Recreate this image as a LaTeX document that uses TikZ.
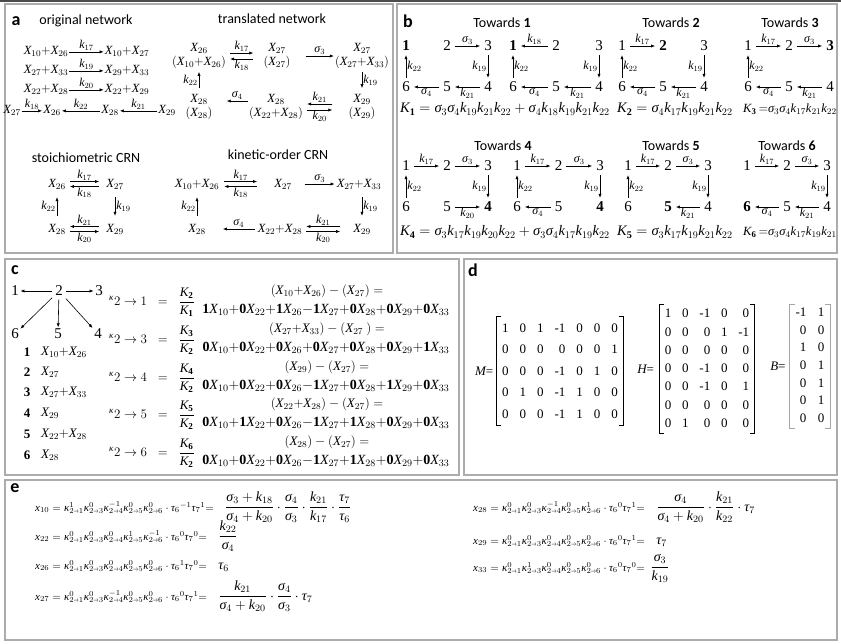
\RequirePackage{fix-cm}
\documentclass[tikz,border=0pt]{standalone}
\usepackage{amsmath}
\usepackage{fontspec}
\setmainfont{Liberation Serif}
\newfontfamily\serfam{Liberation Serif}[NFSSFamily=libser]
\newfontfamily\sflbl{Carlito}
\DeclareSymbolFont{tit}{TU}{libser}{m}{it}
\makeatletter
\count@=`A \loop\Umathcode\count@="7 \symtit\count@ \ifnum\count@<`Z\advance\count@\@ne\repeat
\count@=`a \loop\Umathcode\count@="7 \symtit\count@ \ifnum\count@<`z\advance\count@\@ne\repeat
\makeatother
\Umathchardef\sigma="0 \symtit "03C3
\Umathchardef\kappa="0 \symtit "03BA
\Umathchardef\tau="0 \symtit "03C4
\usetikzlibrary{arrows.meta,calc,positioning}

\newcommand\sto{\mathrel{\scalebox{0.6}[1]{$\scriptstyle\rightarrow$}}}
\newcommand\kps[5]{\kappa^{#1}_{2\sto1}\kappa^{#2}_{2\sto3}\kappa^{#3}_{2\sto4}\kappa^{#4}_{2\sto5}\kappa^{#5}_{2\sto6}}

\begin{document}
\begin{tikzpicture}[x=1pt,y=-1pt,
 panel/.style={draw=gray!65,line width=1.2pt},
 tag/.style={font=\sflbl\bfseries\fontsize{18}{18}\selectfont,inner sep=0pt},
 ttl/.style={font=\sflbl\fontsize{14}{14}\selectfont,inner sep=0pt},
 sp/.style={inner sep=1pt,font=\fontsize{12.5}{14}\selectfont},
 cx/.style={sp,align=center},
 lbl/.style={inner sep=1pt,font=\fontsize{12}{12}\selectfont},
 ar/.style={-{Latex[length=4pt,width=3.2pt]},line width=0.6pt},
 ed/.style={ar,shorten <=2.5pt,shorten >=2.5pt},
 num/.style={inner sep=1.5pt,font=\fontsize{15}{15}\selectfont},
 kform/.style={anchor=west,inner sep=0pt,font=\fontsize{14.5}{14.5}\selectfont},
 cmath/.style={inner sep=1pt,font=\fontsize{13}{15}\selectfont},
 cbold/.style={inner sep=1pt,font=\fontsize{14}{15}\selectfont},
 lnum/.style={inner sep=1pt,font=\bfseries\fontsize{13}{13}\selectfont},
 mtx/.style={inner sep=0pt,font=\fontsize{13}{15.6}\selectfont},
 brk/.style={line width=1pt},
 brkb/.style={line width=0.6pt,gray!70},
 eqs/.style={anchor=base west,inner sep=0pt,font=\fontsize{11}{13}\selectfont},
 eqf/.style={anchor=base west,inner sep=0pt,font=\fontsize{14}{16}\selectfont}]
\useasboundingbox (0,0) rectangle (841,643);
\fill[black!70] (0,0) rectangle (841,2);
\draw[panel] (5,4) rectangle (393,253);
\draw[panel] (397,4) rectangle (837,253);
\draw[panel] (5,259) rectangle (459,475);
\draw[panel] (464,259) rectangle (837,475);
\draw[panel] (5,480) rectangle (837,640);

% a
\node[tag] (ta) at (16,21) {a};
\node[ttl] (on) at (86,21) {original network};
\node[ttl] (tn) at (272,19) {translated network};
\node[sp] (o1l) at (46,51) {$X_{10}{+}X_{26}$};
\node[sp] (o1r) at (127,51) {$X_{10}{+}X_{27}$};
\node[sp] (o2l) at (46,70) {$X_{27}{+}X_{33}$};
\node[sp] (o2r) at (127,70) {$X_{29}{+}X_{33}$};
\node[sp] (o3l) at (46,89) {$X_{22}{+}X_{28}$};
\node[sp] (o3r) at (127,89) {$X_{22}{+}X_{29}$};
\draw[ar] (o1l.mid east) -- node[above,lbl]{$k_{17}$} (o1r.mid west);
\draw[ar] (o2l.mid east) -- node[above,lbl]{$k_{19}$} (o2r.mid west);
\draw[ar] (o3l.mid east) -- node[above,lbl]{$k_{20}$} (o3r.mid west);
\node[sp] (o27) at (12,110) {$X_{27}$};
\node[sp] (o26) at (52,110) {$X_{26}$};
\node[sp] (o28) at (110,110) {$X_{28}$};
\node[sp] (o29) at (167,110) {$X_{29}$};
\draw[ar] (o27.mid east) -- node[above,lbl]{$k_{18}$} (o26.mid west);
\draw[ar] (o28.mid west) -- node[above,lbl]{$k_{22}$} (o26.mid east);
\draw[ar] (o29.mid west) -- node[above,lbl]{$k_{21}$} (o28.mid east);

\node[cx] (tr1) at (199,56) {$X_{26}$\\$(X_{10}{+}X_{26})$};
\node[cx] (tr2) at (277,56) {$X_{27}$\\$(X_{27})$};
\node[cx] (tr3) at (362,56) {$X_{27}$\\$(X_{27}{+}X_{33})$};
\node[cx] (tr6) at (199,107) {$X_{28}$\\$(X_{28})$};
\node[cx] (tr5) at (276,107) {$X_{28}$\\$(X_{22}{+}X_{28})$};
\node[cx] (tr4) at (362,107) {$X_{29}$\\$(X_{29})$};
\draw[ar] ([xshift=3pt,yshift=3pt]tr1.east) -- node[above,lbl]{$k_{17}$} ([xshift=-9pt,yshift=3pt]tr2.west);
\draw[ar] ([xshift=-9pt,yshift=-3pt]tr2.west) -- node[below,lbl]{$k_{18}$} ([xshift=3pt,yshift=-3pt]tr1.east);
\draw[ar] ([xshift=14pt]tr2.east) -- node[above,lbl]{$\sigma_3$} (tr3.west);
\draw[ar] ([yshift=-2pt]tr3.south) -- node[right,lbl]{$k_{19}$} ([yshift=5pt]tr4.north);
\draw[ar] ([xshift=-15pt,yshift=3pt]tr4.west) -- node[above,lbl]{$k_{21}$} ([xshift=3pt,yshift=3pt]tr5.east);
\draw[ar] ([xshift=3pt,yshift=-3pt]tr5.east) -- node[below,lbl]{$k_{20}$} ([xshift=-15pt,yshift=-3pt]tr4.west);
\draw[ar] ([yshift=6pt]tr5.west) -- node[above,lbl]{$\sigma_4$} ([xshift=13pt,yshift=6pt]tr6.east);
\draw[ar] ([yshift=5pt]tr6.north) -- node[left,lbl]{$k_{22}$} ([yshift=-2pt]tr1.south);

\node[ttl] (sc) at (86,158) {stoichiometric CRN};
\node[ttl] (kc) at (278,155) {kinetic-order CRN};
\node[sp] (s26) at (57,184) {$X_{26}$};
\node[sp] (s27) at (115,184) {$X_{27}$};
\node[sp] (s28) at (57,229) {$X_{28}$};
\node[sp] (s29) at (115,229) {$X_{29}$};
\draw[ar] ([xshift=3pt,yshift=2.5pt]s26.east) -- node[above,lbl]{$k_{17}$} ([xshift=-6pt,yshift=2.5pt]s27.west);
\draw[ar] ([xshift=-6pt,yshift=-2.5pt]s27.west) -- node[below,lbl]{$k_{18}$} ([xshift=3pt,yshift=-2.5pt]s26.east);
\draw[ar] ([xshift=-6pt,yshift=2.5pt]s29.west) -- node[above,lbl]{$k_{21}$} ([xshift=3pt,yshift=2.5pt]s28.east);
\draw[ar] ([xshift=3pt,yshift=-2.5pt]s28.east) -- node[below,lbl]{$k_{20}$} ([xshift=-6pt,yshift=-2.5pt]s29.west);
\draw[ar] ([yshift=7pt]s28.north) -- node[left,lbl]{$k_{22}$} ([yshift=-7pt]s26.south);
\draw[ar] ([yshift=-7pt]s27.south) -- node[right,lbl]{$k_{19}$} ([yshift=7pt]s29.north);

\node[sp] (k1) at (197,184) {$X_{10}{+}X_{26}$};
\node[sp] (k2) at (283,184) {$X_{27}$};
\node[sp] (k3) at (359,184) {$X_{27}{+}X_{33}$};
\node[sp] (k6) at (197,229) {$X_{28}$};
\node[sp] (k5) at (280,229) {$X_{22}{+}X_{28}$};
\node[sp] (k4) at (362,229) {$X_{29}$};
\draw[ar] ([xshift=4pt,yshift=2.5pt]k1.east) -- node[above,lbl]{$k_{17}$} ([xshift=-16pt,yshift=2.5pt]k2.west);
\draw[ar] ([xshift=-16pt,yshift=-2.5pt]k2.west) -- node[below,lbl]{$k_{18}$} ([xshift=4pt,yshift=-2.5pt]k1.east);
\draw[ar] ([xshift=12pt]k2.east) -- node[above,lbl]{$\sigma_3$} ([xshift=-1pt]k3.west);
\draw[ar] ([xshift=3pt,yshift=-7pt]k3.south) -- node[right,lbl]{$k_{19}$} ([yshift=7pt]k4.north);
\draw[ar] ([xshift=-12pt,yshift=2.5pt]k4.west) -- node[above,lbl]{$k_{21}$} ([xshift=3pt,yshift=2.5pt]k5.east);
\draw[ar] ([xshift=3pt,yshift=-2.5pt]k5.east) -- node[below,lbl]{$k_{20}$} ([xshift=-12pt,yshift=-2.5pt]k4.west);
\draw[ar] ([xshift=-2pt]k5.west) -- node[above,lbl]{$\sigma_4$} ([xshift=16pt]k6.east);
\draw[ar] ([yshift=7pt]k6.north) -- node[left,lbl]{$k_{22}$} ([yshift=-7pt]k1.south);

% b
\node[tag] (tb) at (408,21) {b};
\node[ttl] (tw1) at (502,23) {Towards \textbf{1}};
\node[ttl] (tw2) at (671,23) {Towards \textbf{2}};
\node[ttl] (tw3) at (790,23) {Towards \textbf{3}};
\node[ttl] (tw4) at (503,146) {Towards \textbf{4}};
\node[ttl] (tw5) at (671,146) {Towards \textbf{5}};
\node[ttl] (tw6) at (787,146) {Towards \textbf{6}};
\foreach \g/\gx/\gy/\bn/\cs in {t1a/406/46/1/41,t1b/513/46/1/43,t2/622/46/2/41,t3/748/46/3/41,
  t4a/406/166/4/41,t4b/517/166/4/41.5,t5/628/166/5/40,t6/747/166/6/40}
 \foreach \q/\cx/\ry in {1/0/0,2/1/0,3/2/0,6/0/41,5/1/41,4/2/41}
  \node[num] (\g\q) at (\gx+\cx*\cs,\gy+\ry) {\ifnum\q=\bn\relax\textbf{\q}\else\q\fi};
\foreach \g/\u/\v/\a/\t in {
  t1a/2/3/south/\sigma_3, t1a/3/4/east/k_{19}, t1a/4/5/north/k_{21}, t1a/5/6/north/\sigma_4, t1a/6/1/west/k_{22},
  t1b/2/1/south/k_{18}, t1b/3/4/east/k_{19}, t1b/4/5/north/k_{21}, t1b/5/6/north/\sigma_4, t1b/6/1/west/k_{22},
  t2/1/2/south/k_{17}, t2/3/4/east/k_{19}, t2/4/5/north/k_{21}, t2/5/6/north/\sigma_4, t2/6/1/west/k_{22},
  t3/1/2/south/k_{17}, t3/2/3/south/\sigma_3, t3/4/5/north/k_{21}, t3/5/6/north/\sigma_4, t3/6/1/west/k_{22},
  t4a/1/2/south/k_{17}, t4a/2/3/south/\sigma_3, t4a/3/4/east/k_{19}, t4a/5/4/north/k_{20}, t4a/6/1/west/k_{22},
  t4b/1/2/south/k_{17}, t4b/2/3/south/\sigma_3, t4b/3/4/east/k_{19}, t4b/5/6/north/\sigma_4, t4b/6/1/west/k_{22},
  t5/1/2/south/k_{17}, t5/2/3/south/\sigma_3, t5/3/4/east/k_{19}, t5/4/5/north/k_{21}, t5/6/1/west/k_{22},
  t6/1/2/south/k_{17}, t6/2/3/south/\sigma_3, t6/3/4/east/k_{19}, t6/4/5/north/k_{21}, t6/5/6/north/\sigma_4}
 \draw[ed] (\g\u) -- node[lbl,anchor=\a]{$\t$} (\g\v);
\node[kform] (K1) at (400,109) {$K_{\mathbf{1}}=\sigma_3\sigma_4k_{19}k_{21}k_{22}+\sigma_4k_{18}k_{19}k_{21}k_{22}$};
\node[kform] (K2) at (617,109) {$K_{\mathbf{2}}=\sigma_4k_{17}k_{19}k_{21}k_{22}$};
\node[kform,font=\fontsize{12.5}{12.5}\selectfont] (K3) at (743,109) {$K_{\mathbf{3}}\,{=}\sigma_3\sigma_4k_{17}k_{21}k_{22}$};
\node[kform] (K4) at (400,232) {$K_{\mathbf{4}}=\sigma_3k_{17}k_{19}k_{20}k_{22}+\sigma_3\sigma_4k_{17}k_{19}k_{22}$};
\node[kform] (K5) at (617,232) {$K_{\mathbf{5}}=\sigma_3k_{17}k_{19}k_{21}k_{22}$};
\node[kform,font=\fontsize{12.5}{12.5}\selectfont] (K6) at (743,232) {$K_{\mathbf{6}}\,{=}\sigma_3\sigma_4k_{17}k_{19}k_{21}$};

% c
\node[tag] (tc) at (15,270) {c};
\node[num] (c1) at (15,291) {1};
\node[num] (c2) at (59,291) {2};
\node[num] (c3) at (99,291) {3};
\node[num] (c6) at (15,334) {6};
\node[num] (c5) at (58,334) {5};
\node[num] (c4) at (98,334) {4};
\foreach \v in {1,3,4,5,6} \draw[ar,shorten <=2pt] (c2) -- (c\v);
\foreach \i/\y/\e in {1/352/{X_{10}{+}X_{26}},2/372/{X_{27}},3/392/{X_{27}{+}X_{33}},
  4/413/{X_{29}},5/434/{X_{22}{+}X_{28}},6/455/{X_{28}}}
 {\node[lnum] (ln\i) at (27,\y) {\i};
  \node[cmath,anchor=west] (le\i) at (40,\y) {$\e$};}
\foreach \j/\p/\d/\y in {1/2/1/302,3/3/2/340,4/4/2/378,5/5/2/415,6/6/2/453}
 \node[cmath,anchor=west] (kap\j) at (108,\y) {${}^{\kappa}2\rightarrow\j\;\;=\;\;\dfrac{K_{\mathbf{\p}}}{K_{\mathbf{\d}}}$};
\foreach \j/\y/\u/\v in {
  1/302/{(X_{10}{+}X_{26})-(X_{27})=}/{\mathbf{1}X_{10}{+}\mathbf{0}X_{22}{+}\mathbf{1}X_{26}{-}\mathbf{1}X_{27}{+}\mathbf{0}X_{28}{+}\mathbf{0}X_{29}{+}\mathbf{0}X_{33}},
  3/340/{(X_{27}{+}X_{33})-(X_{27}\ )=}/{\mathbf{0}X_{10}{+}\mathbf{0}X_{22}{+}\mathbf{0}X_{26}{+}\mathbf{0}X_{27}{+}\mathbf{0}X_{28}{+}\mathbf{0}X_{29}{+}\mathbf{1}X_{33}},
  4/378/{(X_{29})-(X_{27})=}/{\mathbf{0}X_{10}{+}\mathbf{0}X_{22}{+}\mathbf{0}X_{26}{-}\mathbf{1}X_{27}{+}\mathbf{0}X_{28}{+}\mathbf{1}X_{29}{+}\mathbf{0}X_{33}},
  5/415/{(X_{22}{+}X_{28})-(X_{27})=}/{\mathbf{0}X_{10}{+}\mathbf{1}X_{22}{+}\mathbf{0}X_{26}{-}\mathbf{1}X_{27}{+}\mathbf{1}X_{28}{+}\mathbf{0}X_{29}{+}\mathbf{0}X_{33}},
  6/453/{(X_{28})-(X_{27})=}/{\mathbf{0}X_{10}{+}\mathbf{0}X_{22}{+}\mathbf{0}X_{26}{-}\mathbf{1}X_{27}{+}\mathbf{1}X_{28}{+}\mathbf{0}X_{29}{+}\mathbf{0}X_{33}}}
 {\node[cmath] (du\j) at (327,\y-11) {$\u$};
  \node[cbold] (dv\j) at (326,\y+8) {$\v$};}

% d
\node[tag] (td) at (473,270) {d};
\node[mtx] (mM) at (560,371) {\def\arraystretch{1.38}\setlength\tabcolsep{5.5pt}%
 \begin{tabular}{rrrrrrr}1&0&1&-1&0&0&0\\0&0&0&0&0&0&1\\0&0&0&-1&0&1&0\\0&1&0&-1&1&0&0\\0&0&0&-1&1&0&0\end{tabular}};
\node[mtx] (mH) at (707,369) {\def\arraystretch{1.17}\setlength\tabcolsep{5.4pt}%
 \begin{tabular}{rrrrr}1&0&-1&0&0\\0&0&0&1&-1\\0&0&0&0&0\\0&0&-1&0&0\\0&0&-1&0&1\\0&0&0&0&0\\0&1&0&0&0\end{tabular}};
\node[mtx] (mB) at (810,366) {\def\arraystretch{1.13}\setlength\tabcolsep{5.7pt}%
 \begin{tabular}{rr}-1&1\\0&0\\1&0\\0&1\\0&1\\0&1\\0&0\end{tabular}};
\foreach \m/\s in {mM/brk,mH/brk,mB/brkb}
 {\draw[\s] ([xshift=5pt]\m.north west) -- (\m.north west) -- (\m.south west) -- ([xshift=5pt]\m.south west);
  \draw[\s] ([xshift=-5pt]\m.north east) -- (\m.north east) -- (\m.south east) -- ([xshift=-5pt]\m.south east);}
\node[mtx,left=3pt of mM] (lM) {$M$=};
\node[mtx,left=5pt of mH] (lH) {$H$=};
\node[mtx,left=4pt of mB] (lB) {$B$=};

% e
\node[tag] (te) at (15,488) {e};
\node[eqs] (e10) at (35,511) {$x_{10}=\kps{1}{0}{-1}{0}{0}\cdot\tau_6{}^{-1}\tau_7{}^{1}{=}$};
\node[eqf] (f10) at ([xshift=11pt]e10.base east) {$\dfrac{\sigma_3+k_{18}}{\sigma_4+k_{20}}\cdot\dfrac{\sigma_4}{\sigma_3}\cdot\dfrac{k_{21}}{k_{17}}\cdot\dfrac{\tau_7}{\tau_6}$};
\node[eqs] (e22) at (35,540) {$x_{22}=\kps{0}{0}{0}{1}{-1}\cdot\tau_6{}^{0}\tau_7{}^{0}{=}$};
\node[eqf] (f22) at ([xshift=11pt]e22.base east) {$\dfrac{k_{22}}{\sigma_4}$};
\node[eqs] (e26) at (35,569) {$x_{26}=\kps{0}{0}{0}{0}{0}\cdot\tau_6{}^{1}\tau_7{}^{0}{=}$};
\node[eqf] (f26) at ([xshift=11pt]e26.base east) {$\tau_6$};
\node[eqs] (e27) at (35,600) {$x_{27}=\kps{0}{0}{-1}{0}{0}\cdot\tau_6{}^{0}\tau_7{}^{1}{=}$};
\node[eqf] (f27) at ([xshift=11pt]e27.base east) {$\dfrac{k_{21}}{\sigma_4+k_{20}}\cdot\dfrac{\sigma_4}{\sigma_3}\cdot\tau_7$};
\node[eqs] (e28) at (473,511) {$x_{28}=\kps{0}{0}{-1}{0}{1}\cdot\tau_6{}^{0}\tau_7{}^{1}{=}$};
\node[eqf] (f28) at ([xshift=11pt]e28.base east) {$\dfrac{\sigma_4}{\sigma_4+k_{20}}\cdot\dfrac{k_{21}}{k_{22}}\cdot\tau_7$};
\node[eqs] (e29) at (473,544) {$x_{29}=\kps{0}{0}{0}{0}{0}\cdot\tau_6{}^{0}\tau_7{}^{1}{=}$};
\node[eqf] (f29) at ([xshift=11pt]e29.base east) {$\tau_7$};
\node[eqs] (e33) at (473,571) {$x_{33}=\kps{0}{1}{0}{0}{0}\cdot\tau_6{}^{0}\tau_7{}^{0}{=}$};
\node[eqf] (f33) at ([xshift=5pt]e33.base east) {$\dfrac{\sigma_3}{k_{19}}$};
\end{tikzpicture}
\end{document}
